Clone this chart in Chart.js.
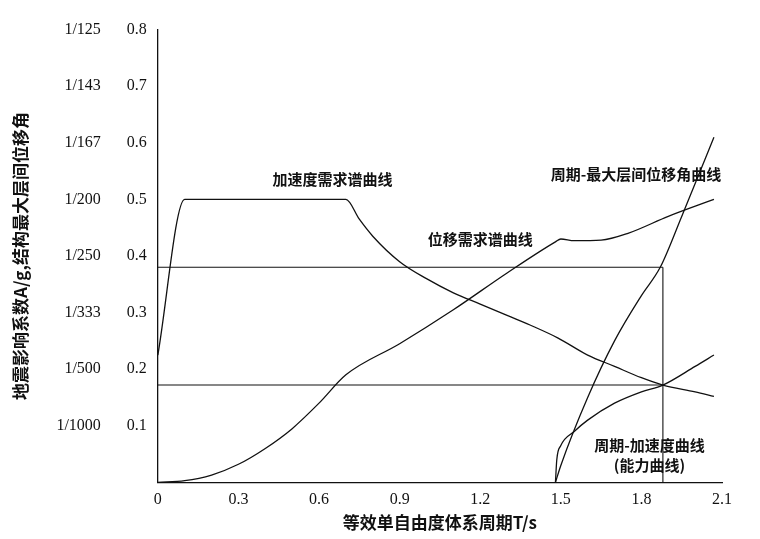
<!DOCTYPE html>
<html><head><meta charset="utf-8">
<script src="https://cdn.jsdelivr.net/npm/chart.js@4"></script>
<style>html,body{margin:0;background:#fff}#w{width:760px;height:539px}</style>
</head><body><div id="w"><canvas id="c"></canvas></div>
<script>
const xTicks=[0,0.3,0.6,0.9,1.2,1.5,1.8,2.1];
const yTicks=[0.1,0.2,0.3,0.4,0.5,0.6,0.7,0.8];
const driftTickLabels=['1/1000','1/500','1/333','1/250','1/200','1/167','1/143','1/125'];
const accDemandT=[0,0.1,0.7,0.75,0.8,0.9,1.0,1.1,1.2,1.3,1.4,1.49,1.6,1.7,1.8,1.88,2.0,2.07];
const accDemandA=[0.225,0.5,0.5,0.465,0.435,0.39,0.36,0.335,0.315,0.295,0.275,0.255,0.225,0.205,0.185,0.172,0.16,0.152];
const dispDemandT=[0,0.1,0.2,0.3,0.4,0.5,0.6,0.7,0.9,1.1,1.3,1.48,1.5,1.55,1.65,1.75,1.9,2.07];
const dispDemandD=[0,0.003,0.013,0.032,0.06,0.095,0.14,0.19,0.245,0.305,0.37,0.425,0.43,0.427,0.428,0.44,0.47,0.5];
const driftT=[1.48,1.5,1.6,1.7,1.8,1.87,1.95,2.07];
const driftD=[0,0.03,0.15,0.25,0.33,0.38,0.47,0.61];
const capT=[1.48,1.485,1.5,1.55,1.6,1.7,1.8,1.88,2.0,2.07];
const capA=[0,0.04,0.065,0.09,0.11,0.14,0.16,0.172,0.205,0.225];
const refLevels=[0.38,0.172];
const refT=1.88;
const pts=(xs,ys)=>xs.map((x,i)=>({x,y:ys[i]}));
const ln={borderColor:'#111',borderWidth:1.3,pointRadius:0,fill:false,showLine:true,cubicInterpolationMode:'monotone'};
const labels=[
 {t:'加速度需求谱曲线',x:0.65,y:0.535},
 {t:'位移需求谱曲线',x:1.2,y:0.43},
 {t:'周期-最大层间位移角曲线',x:1.78,y:0.545},
 {t:'周期-加速度曲线',x:1.83,y:0.065},
 {t:'(能力曲线)',x:1.83,y:0.03}];
const textPlugin={id:'txt',afterDatasetsDraw(ch){const c=ch.ctx,xs=ch.scales.x,ys=ch.scales.y;c.save();c.fillStyle='#111';c.font='bold 15px "Noto Sans CJK SC"';c.textAlign='center';c.textBaseline='middle';labels.forEach(l=>c.fillText(l.t,xs.getPixelForValue(l.x),ys.getPixelForValue(l.y)));c.restore();}};
const flat={...ln,cubicInterpolationMode:'default',tension:0,borderWidth:1.1};
new Chart(document.getElementById('c'),{type:'scatter',data:{datasets:[
 {...ln,data:pts(accDemandT,accDemandA)},
 {...ln,data:pts(dispDemandT,dispDemandD)},
 {...ln,data:pts(driftT,driftD)},
 {...ln,data:pts(capT,capA)},
 ...refLevels.map(v=>({...flat,data:[{x:0,y:v},{x:refT,y:v}]})),
 {...flat,data:[{x:refT,y:refLevels[0]},{x:refT,y:0}]}
]},options:{animation:false,responsive:true,maintainAspectRatio:false,layout:{padding:{top:0,right:38,left:6,bottom:2}},
plugins:{legend:{display:false},tooltip:{enabled:false}},
scales:{
 x:{type:'linear',min:0,max:2.1,afterBuildTicks:a=>{a.ticks=xTicks.map(v=>({value:v}))},grid:{display:false,drawTicks:true,tickLength:5},border:{color:'#111',width:1.3},
  ticks:{color:'#111',font:{size:16,family:'Liberation Serif'},callback:v=>v===0?'0':v.toFixed(1)},
  title:{display:true,text:'等效单自由度体系周期T/s',color:'#111',font:{size:17,family:'Noto Sans CJK SC',weight:'bold'},padding:{top:0}}},
 y:{min:0,max:0.8,afterBuildTicks:a=>{a.ticks=yTicks.map(v=>({value:v}))},grid:{display:false,tickLength:5},border:{color:'#111',width:1.3},
  ticks:{color:'#111',padding:6,font:{size:16,family:'Liberation Serif'},callback:v=>v.toFixed(1)}},
 y2:{position:'left',min:0,max:0.8,afterBuildTicks:a=>{a.ticks=yTicks.map(v=>({value:v}))},grid:{display:false,drawTicks:false},border:{display:false},
  ticks:{color:'#111',padding:20,font:{size:16,family:'Liberation Serif'},callback:(v,i)=>driftTickLabels[i]},
  title:{display:true,text:'地震影响系数A/g,结构最大层间位移角',color:'#111',font:{size:17,family:'Noto Sans CJK SC',weight:'bold'},padding:{bottom:6}}}
}},plugins:[textPlugin]});
</script></body></html>
